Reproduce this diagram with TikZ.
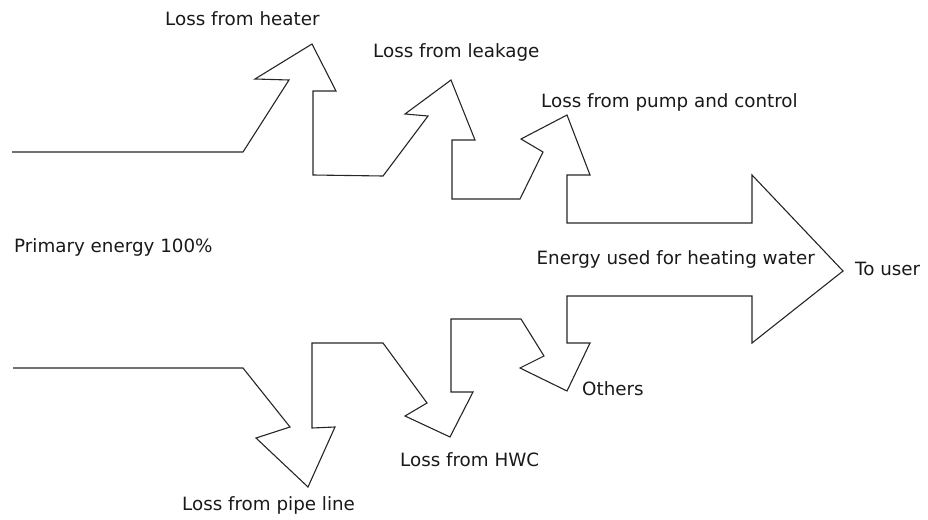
\documentclass[tikz,border=0pt]{standalone}
\usepackage{fontspec}
\setmainfont{DejaVu Sans}
\begin{document}
\begin{tikzpicture}[x=1pt,y=-1pt,
  flow/.style={draw=black!85,line width=1.1pt,line join=miter},
  lbl/.style={inner sep=0pt,font=\fontsize{18.3}{22}\selectfont,text=black!90}]
\useasboundingbox (0,0) rectangle (928,519);
% energy flow outline: primary energy in, losses branching off, useful energy out
\draw[flow] (12,152) -- (243,152)
  -- (289,80) -- (255,79) -- (312,44) -- (336,91) -- (313,91) -- (313,175)
  -- (383,176) -- (428,116) -- (405,114) -- (451,80) -- (475,140) -- (452,140) -- (452,199)
  -- (520,199) -- (543,152) -- (521,139) -- (567,115) -- (590,175) -- (567,175) -- (567,223)
  -- (752,223) -- (752,175) -- (843,271) -- (752,343) -- (752,296) -- (567,296)
  -- (567,343) -- (590,343) -- (567,391) -- (520,368) -- (544,356) -- (521,319) -- (451,319)
  -- (451,392) -- (473,392) -- (450,437) -- (405,416) -- (427,403) -- (383,343) -- (312,343)
  -- (312,428) -- (335,427) -- (308,487) -- (256,438) -- (290,427) -- (243,368) -- (13,368);
% labels
\node[lbl,anchor=base west] (heater) at (165,26) {Loss from heater};
\node[lbl,anchor=base west] (leak) at (373,57) {Loss from leakage};
\node[lbl,anchor=base west] (pump) at (541,107) {Loss from pump and control};
\node[lbl,anchor=base west] (primary) at (14,252) {Primary energy 100\%};
\node[lbl,anchor=base east] (used) at (815,264) {Energy used for heating water};
\node[lbl,anchor=base west] (user) at (855,275) {To user};
\node[lbl,anchor=base west] (others) at (582,395) {Others};
\node[lbl,anchor=base west] (hwc) at (400,466) {Loss from HWC};
\node[lbl,anchor=base west] (pipe) at (182,510) {Loss from pipe line};
\end{tikzpicture}
\end{document}
